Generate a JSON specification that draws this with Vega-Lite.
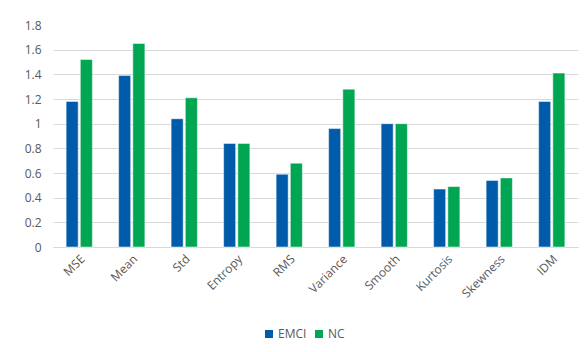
{
  "$schema": "https://vega.github.io/schema/vega-lite/v6.json",
  "autosize": "none",
  "width": 525,
  "height": 222,
  "padding": {"left": 53, "top": 25, "right": 9, "bottom": 105},
  "background": "white",
  "config": {
    "view": {"stroke": null},
    "font": "Open Sans",
    "axis": {"labelFont": "Open Sans", "labelColor": "#595959", "labelFontSize": 12},
    "legend": {"labelFont": "Open Sans", "labelColor": "#595959", "labelFontSize": 12}
  },
  "data": {
    "values": [
      {"feature": "MSE", "group": "EMCI", "value": 1.18},
      {"feature": "MSE", "group": "NC", "value": 1.52},
      {"feature": "Mean", "group": "EMCI", "value": 1.39},
      {"feature": "Mean", "group": "NC", "value": 1.65},
      {"feature": "Std", "group": "EMCI", "value": 1.04},
      {"feature": "Std", "group": "NC", "value": 1.21},
      {"feature": "Entropy", "group": "EMCI", "value": 0.84},
      {"feature": "Entropy", "group": "NC", "value": 0.84},
      {"feature": "RMS", "group": "EMCI", "value": 0.59},
      {"feature": "RMS", "group": "NC", "value": 0.68},
      {"feature": "Variance", "group": "EMCI", "value": 0.96},
      {"feature": "Variance", "group": "NC", "value": 1.28},
      {"feature": "Smooth", "group": "EMCI", "value": 1.0},
      {"feature": "Smooth", "group": "NC", "value": 1.0},
      {"feature": "Kurtosis", "group": "EMCI", "value": 0.47},
      {"feature": "Kurtosis", "group": "NC", "value": 0.49},
      {"feature": "Skewness", "group": "EMCI", "value": 0.54},
      {"feature": "Skewness", "group": "NC", "value": 0.56},
      {"feature": "IDM", "group": "EMCI", "value": 1.18},
      {"feature": "IDM", "group": "NC", "value": 1.41}
    ]
  },
  "mark": {"type": "bar", "stroke": "white", "strokeWidth": 0.5},
  "encoding": {
    "x": {
      "field": "feature", "type": "nominal", "sort": null, "title": null,
      "scale": {"paddingInner": 0.5, "paddingOuter": 0.25},
      "axis": {"labelAngle": -45, "ticks": false, "domain": true, "domainColor": "#d9d9d9", "labelPadding": 6}
    },
    "xOffset": {"field": "group", "type": "nominal", "scale": {"paddingInner": 0.15}},
    "y": {
      "field": "value", "type": "quantitative", "title": null,
      "scale": {"domain": [0, 1.8], "nice": false},
      "axis": {
        "values": [0, 0.2, 0.4, 0.6, 0.8, 1, 1.2, 1.4, 1.6, 1.8],
        "format": "~g",
        "domain": false, "ticks": false, "gridColor": "#d9d9d9",
        "gridOpacity": {"condition": {"test": "datum.value >= 1.79", "value": 0}, "value": 1},
        "labelPadding": 12
      }
    },
    "color": {
      "field": "group", "type": "nominal",
      "scale": {"domain": ["EMCI", "NC"], "range": ["#005BAA", "#00A651"]},
      "legend": {"title": null, "orient": "none", "direction": "horizontal", "legendX": 210, "legendY": 303, "symbolType": "square", "symbolSize": 64, "symbolStrokeWidth": 0, "columnPadding": 6, "labelOffset": 3}
    }
  }
}
